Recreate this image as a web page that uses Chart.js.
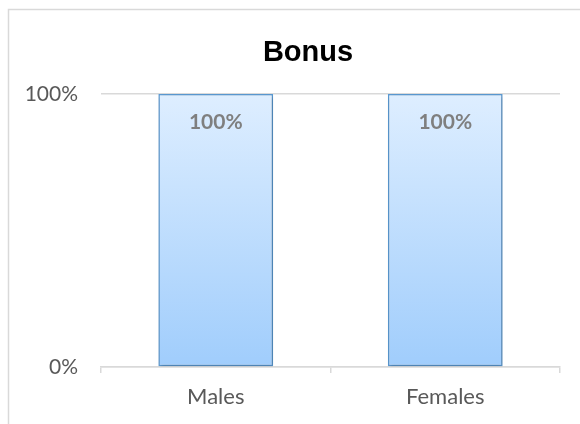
<!DOCTYPE html>
<html>
<head>
<meta charset="utf-8">
<script src="https://cdn.jsdelivr.net/npm/chart.js@4"></script>
<style>
  html, body { margin: 0; padding: 0; background: #fff; }
  #wrap { width: 580px; height: 424px; }
</style>
</head>
<body>
<div id="wrap"><canvas id="chart" width="580" height="424"></canvas></div>
<script>
var categories = ["Males", "Females"];
var bonusValues = [100, 100];
var yTicks = [0, 100];
var chartTitle = "Bonus";

// frame around the chart (only left/top edges fall inside the picture)
var framePlugin = {
    id: 'frame',
    beforeDraw: function(chart) {
        var ctx = chart.ctx;
        ctx.save();
        ctx.fillStyle = '#fff';
        ctx.fillRect(0, 0, chart.width, chart.height);
        ctx.strokeStyle = '#d9d9d9';
        ctx.lineWidth = 1.5;
        ctx.strokeRect(8.5, 9.5, 700, 600);
        ctx.restore();
    }
};

// title is centred on the whole frame, which runs past the right edge
var titlePlugin = {
    id: 'frameTitle',
    afterDraw: function(chart) {
        var ctx = chart.ctx;
        ctx.save();
        ctx.font = 'bold 29px "Liberation Sans", Arial, sans-serif';
        ctx.fillStyle = '#000';
        ctx.textAlign = 'center';
        ctx.textBaseline = 'middle';
        ctx.fillText(chartTitle, 308, 53);
        ctx.restore();
    }
};

// bold value labels just inside the top of each bar
var valueLabels = {
    id: 'valueLabels',
    afterDatasetsDraw: function(chart) {
        var ctx = chart.ctx;
        var meta = chart.getDatasetMeta(0);
        ctx.save();
        ctx.font = 'bold 21px Lato, "Open Sans", sans-serif';
        ctx.fillStyle = '#7f7f7f';
        ctx.textAlign = 'center';
        ctx.textBaseline = 'middle';
        meta.data.forEach(function(bar, i) {
            ctx.fillText(bonusValues[i] + '%', bar.x, bar.y + 28);
        });
        ctx.restore();
    }
};

var barShadow = {
    id: 'barShadow',
    beforeDatasetsDraw: function(chart) {
        var ctx = chart.ctx;
        ctx.save();
        ctx.shadowColor = 'rgba(0,0,0,0.25)';
        ctx.shadowBlur = 4;
        ctx.shadowOffsetX = 1;
        ctx.shadowOffsetY = 1;
    },
    afterDatasetsDraw: function(chart) {
        chart.ctx.restore();
    }
};

function barGradient(context) {
    var chart = context.chart;
    var area = chart.chartArea;
    if (!area) return '#bcdcfd';
    var g = chart.ctx.createLinearGradient(0, area.top, 0, area.bottom);
    g.addColorStop(0, '#deeeff');
    g.addColorStop(1, '#a0cdfc');
    return g;
}

new Chart(document.getElementById('chart'), {
    type: 'bar',
    data: {
        labels: categories,
        datasets: [{
            data: bonusValues,
            backgroundColor: barGradient,
            borderColor: '#5b9bd5',
            borderWidth: 1.5,
            borderSkipped: false,
            categoryPercentage: 1,
            barPercentage: 0.5
        }]
    },
    options: {
        responsive: false,
        animation: false,
        layout: { padding: { left: 0, right: 20, top: 94, bottom: 0 } },
        plugins: {
            legend: { display: false },
            tooltip: { enabled: false },
            title: { display: false }
        },
        scales: {
            y: {
                min: 0,
                max: 100,
                afterBuildTicks: function(scale) {
                    scale.ticks = yTicks.map(function(v) { return { value: v }; });
                },
                afterFit: function(scale) { scale.width = 101; },
                grid: { color: '#d9d9d9', lineWidth: 1.5, drawTicks: false },
                border: { display: false },
                ticks: {
                    padding: 23,
                    color: '#595959',
                    font: { family: 'Lato, "Open Sans", sans-serif', size: 21 },
                    callback: function(v) { return v + '%'; }
                }
            },
            x: {
                afterFit: function(scale) { scale.height = 57; },
                grid: {
                    offset: true,
                    drawOnChartArea: false,
                    color: '#d9d9d9',
                    lineWidth: 1.5,
                    tickLength: 6
                },
                border: { color: '#d9d9d9', width: 1.5 },
                ticks: {
                    padding: 11,
                    color: '#595959',
                    font: { family: 'Lato, "Open Sans", sans-serif', size: 22 }
                }
            }
        }
    },
    plugins: [framePlugin, barShadow, valueLabels, titlePlugin]
});
</script>
</body>
</html>
